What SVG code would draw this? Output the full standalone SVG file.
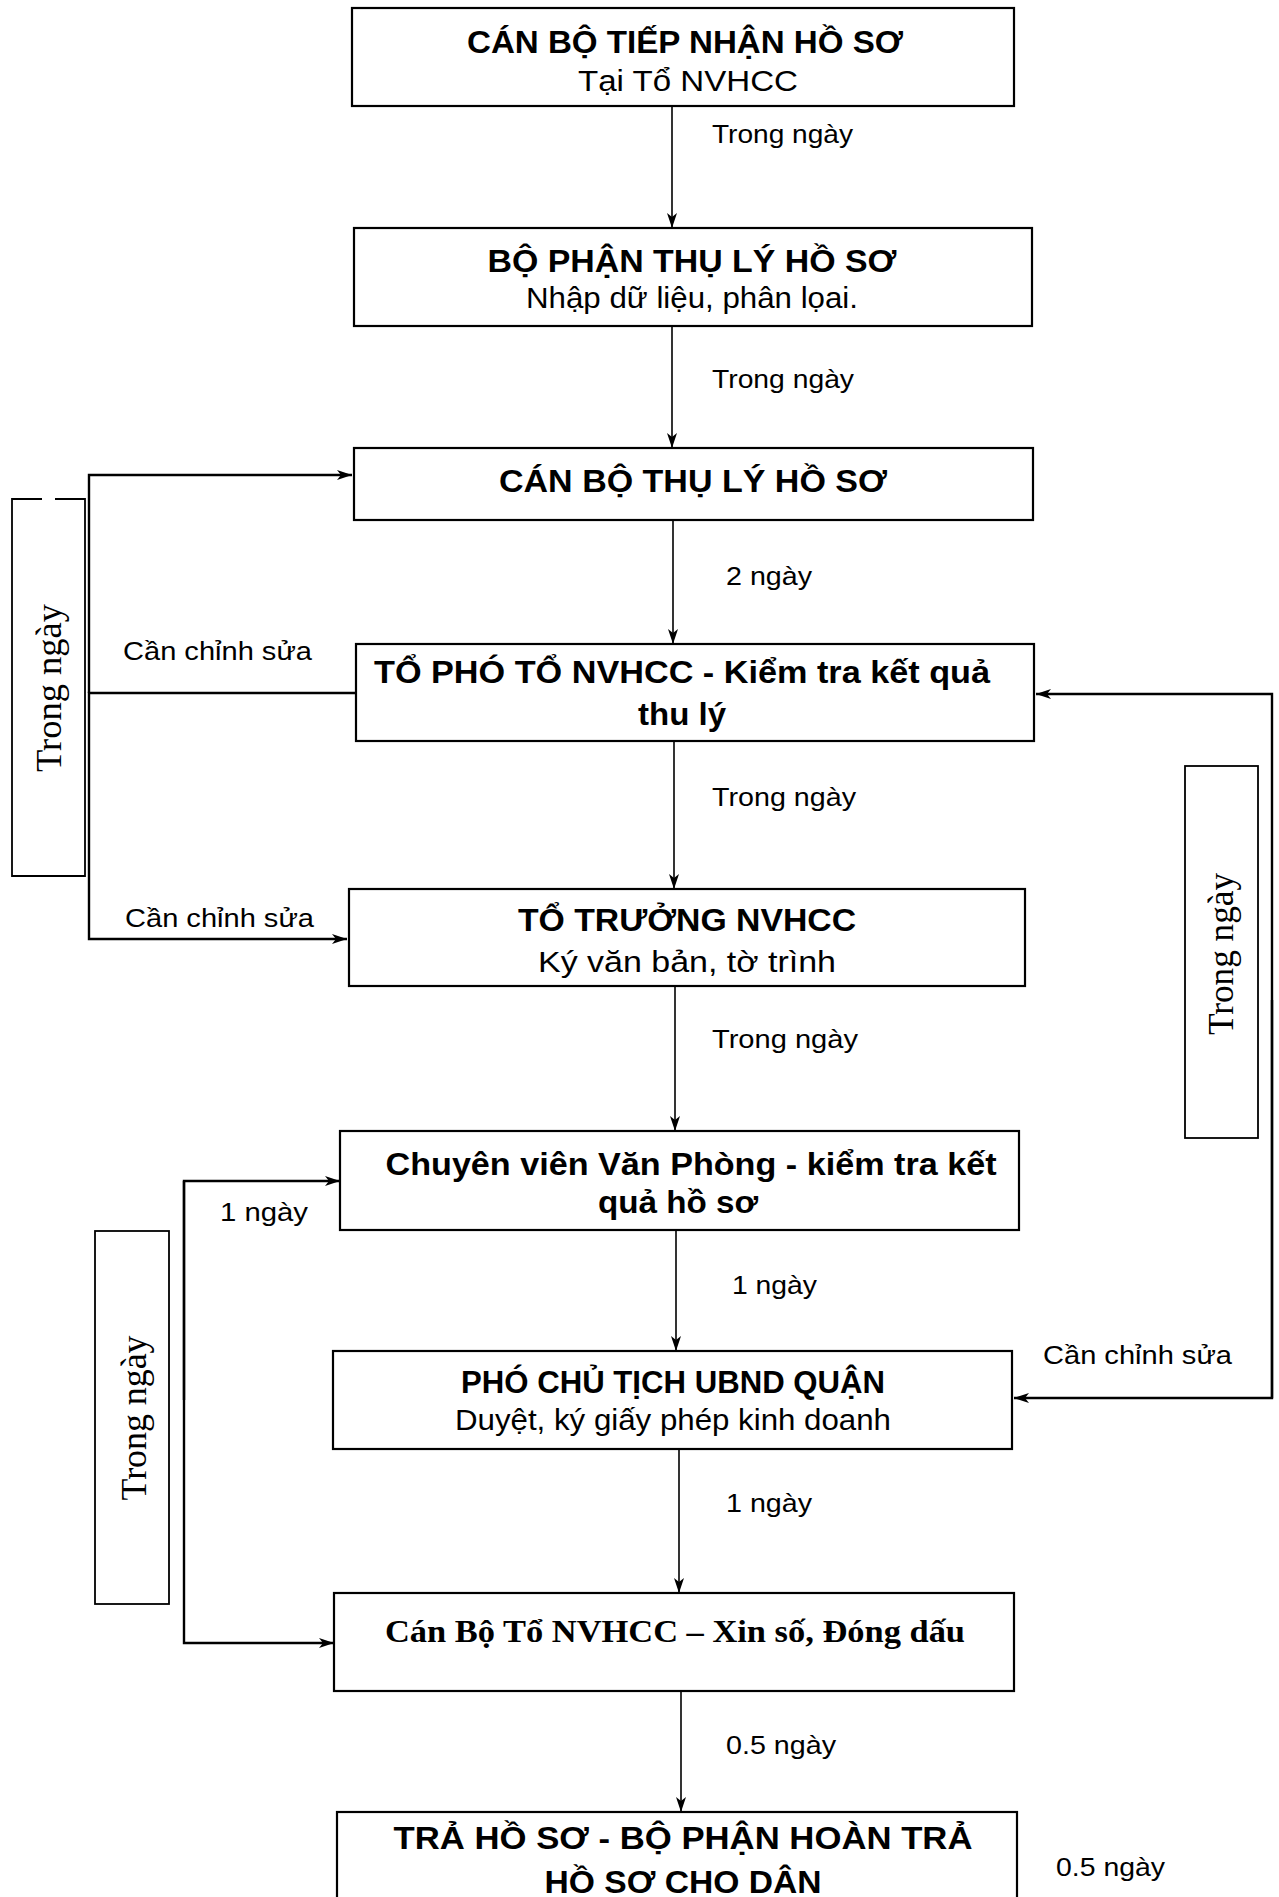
<svg xmlns="http://www.w3.org/2000/svg" width="1279" height="1897" viewBox="0 0 1279 1897">
<style>
.box{fill:#fff;stroke:#000;stroke-width:2.2}
.frame{fill:none;stroke:#000;stroke-width:1.8}
.ln{fill:none;stroke:#000;stroke-width:1.6}
.lnb{fill:none;stroke:#000;stroke-width:2.4}
text{font-family:"Liberation Sans",Arial,sans-serif;fill:#000}
.h{font-weight:bold;font-size:31px;text-anchor:middle}
.s{font-size:30px;text-anchor:middle}
.lbl{font-size:26px}
.rot{font-family:"Liberation Serif","Times New Roman",serif;font-size:36px;text-anchor:middle}
.serifb{font-family:"Liberation Serif","Times New Roman",serif;font-weight:bold;font-size:32px;text-anchor:middle}
</style>
<defs>
<marker id="ah" markerUnits="userSpaceOnUse" markerWidth="16" markerHeight="10" refX="15" refY="5" orient="auto">
<path d="M0,0 L15,5 L0,10 L4,5 z" fill="#000"/>
</marker>
</defs>
<rect width="1279" height="1897" fill="#fff"/>

<g id="connectors">
<line class="ln" x1="672" y1="106" x2="672" y2="228" marker-end="url(#ah)"/>
<line class="ln" x1="672" y1="326" x2="672" y2="448" marker-end="url(#ah)"/>
<line class="ln" x1="673" y1="520" x2="673" y2="644" marker-end="url(#ah)"/>
<line class="ln" x1="674" y1="741" x2="674" y2="889" marker-end="url(#ah)"/>
<line class="ln" x1="675" y1="986" x2="675" y2="1131" marker-end="url(#ah)"/>
<line class="ln" x1="676" y1="1230" x2="676" y2="1351" marker-end="url(#ah)"/>
<line class="ln" x1="679" y1="1449" x2="679" y2="1593" marker-end="url(#ah)"/>
<line class="ln" x1="681" y1="1691" x2="681" y2="1812" marker-end="url(#ah)"/>
<path class="lnb" d="M89,693 V475 H352" marker-end="url(#ah)"/>
<path class="lnb" d="M356,693 H89 V939 H347" marker-end="url(#ah)"/>
<path class="lnb" d="M1272,1398 V694 H1036" marker-end="url(#ah)"/>
<path class="lnb" d="M1272,1000 V1398 H1014" marker-end="url(#ah)"/>
<path class="lnb" d="M184,1400 V1181 H340" marker-end="url(#ah)"/>
<path class="lnb" d="M184,1181 V1643 H334" marker-end="url(#ah)"/>
<text class="lbl" x="712" y="143" textLength="141" lengthAdjust="spacingAndGlyphs">Trong ngày</text>
<text class="lbl" x="712" y="388" textLength="142" lengthAdjust="spacingAndGlyphs">Trong ngày</text>
<text class="lbl" x="726" y="585" textLength="86" lengthAdjust="spacingAndGlyphs">2 ngày</text>
<text class="lbl" x="712" y="806" textLength="144" lengthAdjust="spacingAndGlyphs">Trong ngày</text>
<text class="lbl" x="712" y="1048" textLength="146" lengthAdjust="spacingAndGlyphs">Trong ngày</text>
<text class="lbl" x="732" y="1294" textLength="85" lengthAdjust="spacingAndGlyphs">1 ngày</text>
<text class="lbl" x="726" y="1512" textLength="86" lengthAdjust="spacingAndGlyphs">1 ngày</text>
<text class="lbl" x="726" y="1754" textLength="110" lengthAdjust="spacingAndGlyphs">0.5 ngày</text>
<text class="lbl" x="1056" y="1876" textLength="109" lengthAdjust="spacingAndGlyphs">0.5 ngày</text>
<text class="lbl" x="220" y="1221" textLength="88" lengthAdjust="spacingAndGlyphs">1 ngày</text>
<text class="lbl" x="123" y="660" font-size="28" textLength="189" lengthAdjust="spacingAndGlyphs">Cần chỉnh sửa</text>
<text class="lbl" x="125" y="927" font-size="28" textLength="189" lengthAdjust="spacingAndGlyphs">Cần chỉnh sửa</text>
<text class="lbl" x="1043" y="1364" font-size="28" textLength="189" lengthAdjust="spacingAndGlyphs">Cần chỉnh sửa</text>
</g>

<g id="note-left-1">
<path class="frame" d="M42,499 H12 V876 H85 V499 H55"/>
<text class="rot" transform="translate(61,688) rotate(-90)" textLength="168" lengthAdjust="spacingAndGlyphs">Trong ngày</text>
</g>
<g id="note-left-2">
<rect class="frame" x="95" y="1231" width="74" height="373"/>
<text class="rot" transform="translate(146,1418) rotate(-90)" textLength="165" lengthAdjust="spacingAndGlyphs">Trong ngày</text>
</g>
<g id="note-right">
<rect class="frame" x="1185" y="766" width="73" height="372"/>
<text class="rot" transform="translate(1233,954) rotate(-90)" textLength="162" lengthAdjust="spacingAndGlyphs">Trong ngày</text>
</g>

<g id="n1">
<rect class="box" x="352" y="8" width="662" height="98"/>
<text class="h" x="685" y="53" textLength="436" lengthAdjust="spacingAndGlyphs">CÁN BỘ TIẾP NHẬN HỒ SƠ</text>
<text class="s" x="688" y="91" textLength="220" lengthAdjust="spacingAndGlyphs">Tại Tổ NVHCC</text>
</g>
<g id="n2">
<rect class="box" x="354" y="228" width="678" height="98"/>
<text class="h" x="692" y="272" textLength="409" lengthAdjust="spacingAndGlyphs">BỘ PHẬN THỤ LÝ HỒ SƠ</text>
<text class="s" x="692" y="308" textLength="332" lengthAdjust="spacingAndGlyphs">Nhập dữ liệu, phân lọai.</text>
</g>
<g id="n3">
<rect class="box" x="354" y="448" width="679" height="72"/>
<text class="h" x="693" y="492" textLength="388" lengthAdjust="spacingAndGlyphs">CÁN BỘ THỤ LÝ HỒ SƠ</text>
</g>
<g id="n4">
<rect class="box" x="356" y="644" width="678" height="97"/>
<text class="h" x="682" y="683" textLength="616" lengthAdjust="spacingAndGlyphs">TỔ PHÓ TỔ NVHCC -  Kiểm tra kết quả</text>
<text class="h" x="682" y="725" textLength="88" lengthAdjust="spacingAndGlyphs">thu lý</text>
</g>
<g id="n5">
<rect class="box" x="349" y="889" width="676" height="97"/>
<text class="h" x="687" y="931" textLength="338" lengthAdjust="spacingAndGlyphs">TỔ TRƯỞNG NVHCC</text>
<text class="s" x="687" y="972" textLength="298" lengthAdjust="spacingAndGlyphs">Ký văn bản, tờ trình</text>
</g>
<g id="n6">
<rect class="box" x="340" y="1131" width="679" height="99"/>
<text class="h" x="691" y="1175" textLength="611" lengthAdjust="spacingAndGlyphs">Chuyên viên Văn Phòng - kiểm tra kết</text>
<text class="h" x="678" y="1213" textLength="160" lengthAdjust="spacingAndGlyphs">quả hồ sơ</text>
</g>
<g id="n7">
<rect class="box" x="333" y="1351" width="679" height="98"/>
<text class="h" x="673" y="1393" textLength="424" lengthAdjust="spacingAndGlyphs">PHÓ CHỦ TỊCH UBND QUẬN</text>
<text class="s" x="673" y="1430" textLength="436" lengthAdjust="spacingAndGlyphs">Duyệt, ký giấy phép kinh doanh</text>
</g>
<g id="n8">
<rect class="box" x="334" y="1593" width="680" height="98"/>
<text class="serifb" x="675" y="1642" textLength="580" lengthAdjust="spacingAndGlyphs">Cán Bộ Tổ NVHCC – Xin số, Đóng dấu</text>
</g>
<g id="n9">
<rect class="box" x="337" y="1812" width="680" height="100"/>
<text class="h" x="683" y="1849" textLength="579" lengthAdjust="spacingAndGlyphs">TRẢ HỒ SƠ -  BỘ PHẬN HOÀN TRẢ</text>
<text class="h" x="683" y="1893" textLength="277" lengthAdjust="spacingAndGlyphs">HỒ SƠ CHO DÂN</text>
</g>
</svg>
